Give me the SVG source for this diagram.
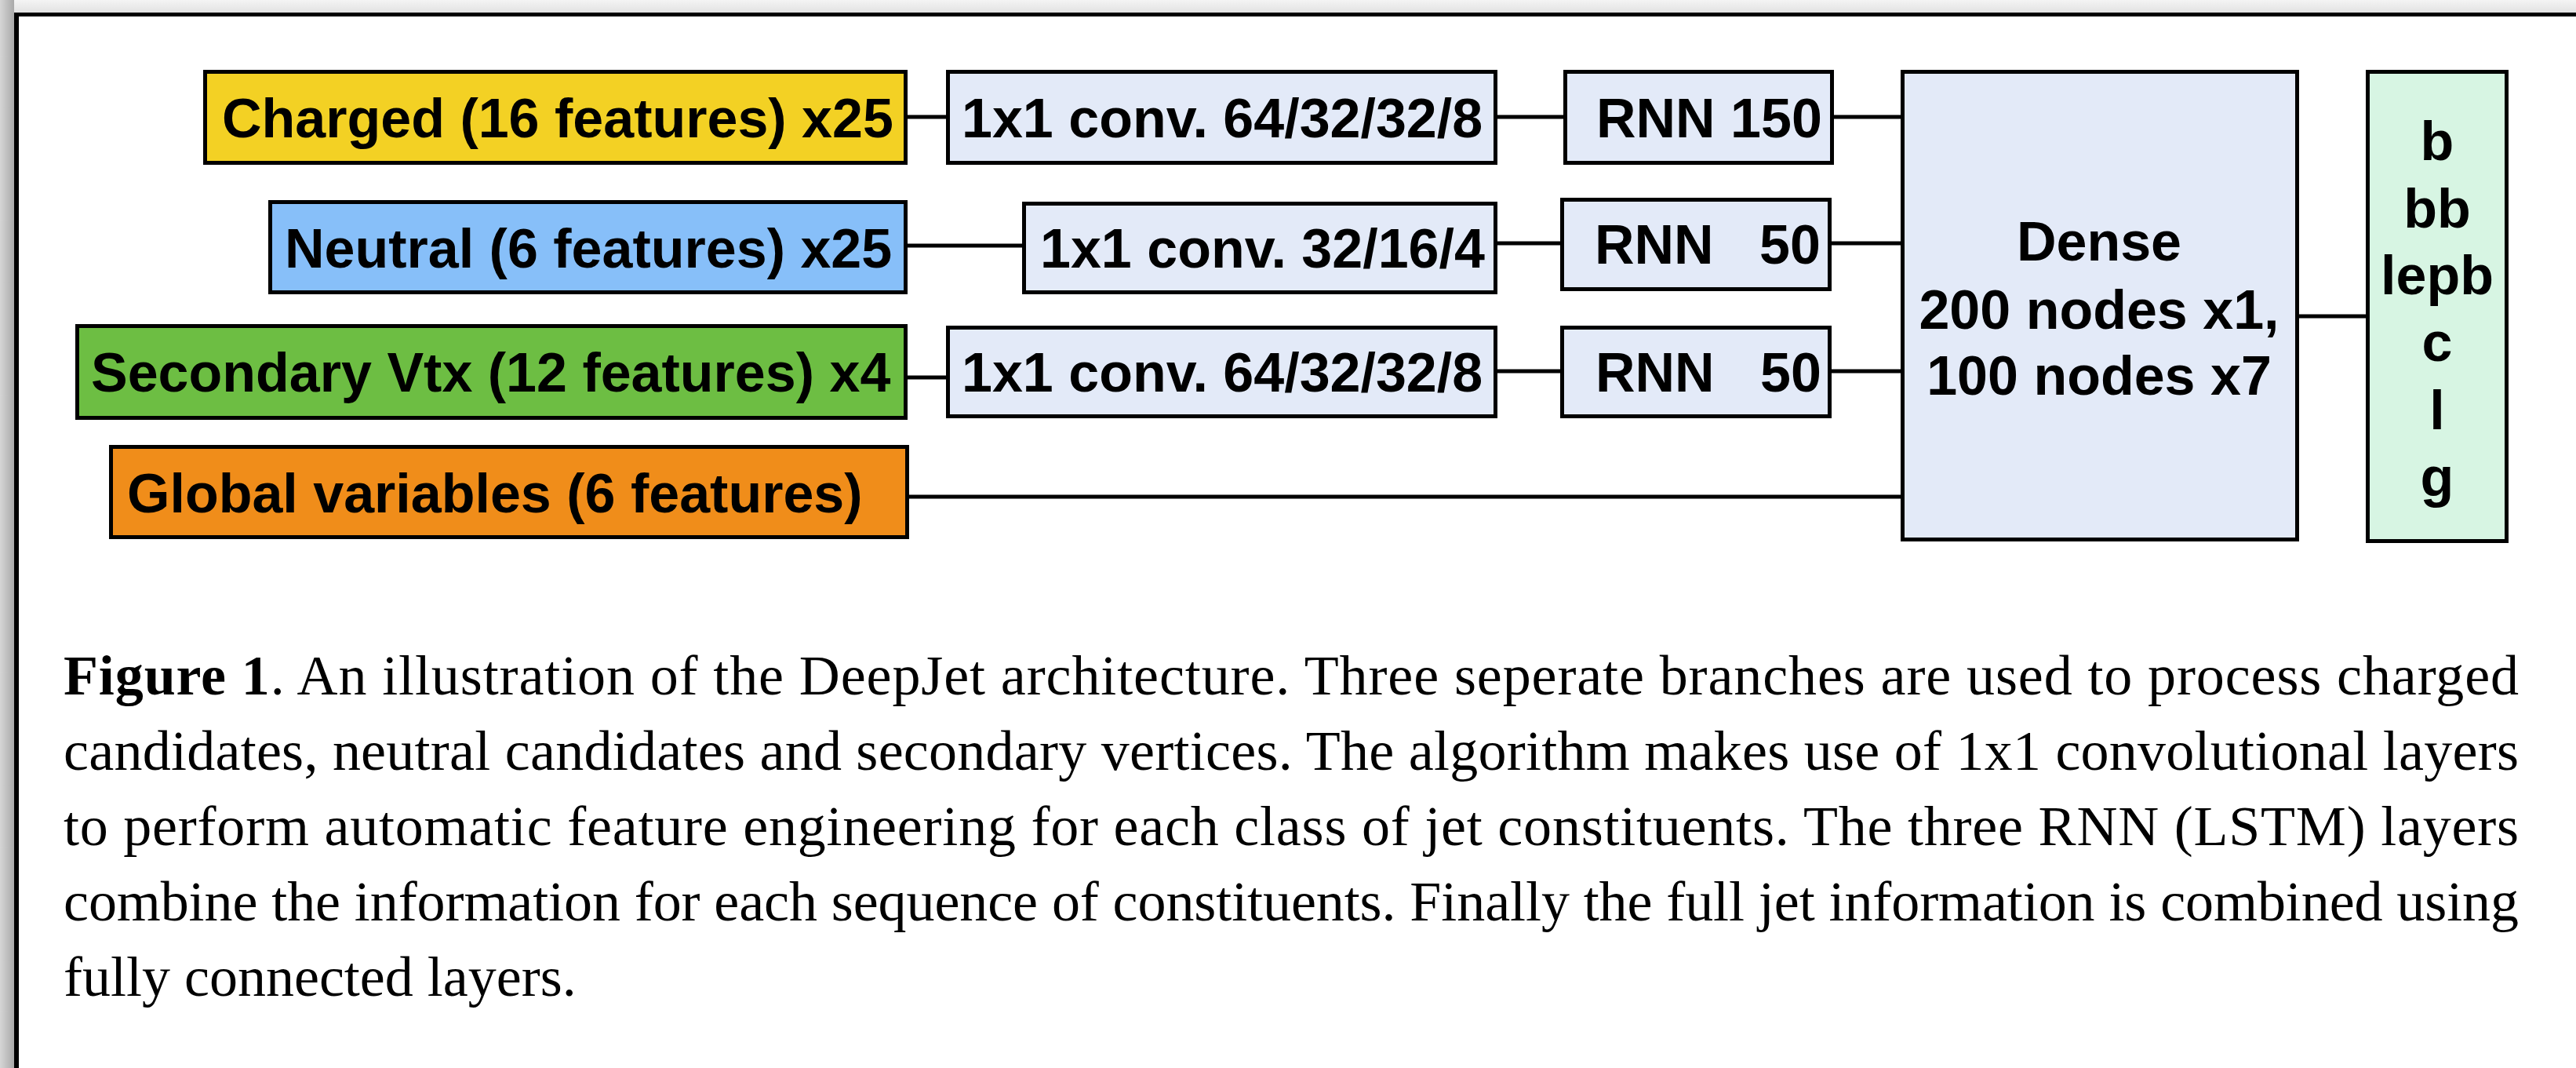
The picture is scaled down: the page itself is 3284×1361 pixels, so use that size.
<svg xmlns="http://www.w3.org/2000/svg" width="3284" height="1361" viewBox="0 0 3284 1361">
<defs>
<linearGradient id="gTop" x1="0" y1="0" x2="0" y2="1"><stop offset="0" stop-color="#f4f4f4"/><stop offset="1" stop-color="#e2e2e2"/></linearGradient>
<linearGradient id="gLeft" x1="0" y1="0" x2="1" y2="0"><stop offset="0" stop-color="#d6d6d6"/><stop offset="1" stop-color="#a9a9a9"/></linearGradient>
</defs>
<style>
.box{stroke:#000;stroke-width:5}
.lbl{font-family:"Liberation Sans",Arial,Helvetica,sans-serif;font-weight:bold;font-size:70px;fill:#000}
.mid{text-anchor:middle}
.cap{font-family:"Liberation Serif","Times New Roman",serif;font-size:72px;fill:#000}
.conn line{stroke:#000;stroke-width:5}
.layer{fill:#e3eaf8}
</style>
<rect x="0" y="0" width="3284" height="1361" fill="#ffffff"/>
<rect x="0" y="0" width="3284" height="16" fill="url(#gTop)"/>
<rect x="0" y="0" width="18" height="1361" fill="url(#gLeft)"/>
<line x1="18" y1="18.5" x2="3284" y2="18.5" stroke="#000" stroke-width="5"/>
<line x1="21" y1="16" x2="21" y2="1361" stroke="#000" stroke-width="6"/>

<g id="connectors" class="conn">
<line x1="1157" y1="149" x2="1206" y2="149"/>
<line x1="1909" y1="149" x2="1993" y2="149"/>
<line x1="2338" y1="149" x2="2423" y2="149"/>
<line x1="1157" y1="313" x2="1303" y2="313"/>
<line x1="1909" y1="310" x2="1989" y2="310"/>
<line x1="2335" y1="310" x2="2423" y2="310"/>
<line x1="1157" y1="481" x2="1206" y2="481"/>
<line x1="1909" y1="473" x2="1989" y2="473"/>
<line x1="2335" y1="473" x2="2423" y2="473"/>
<line x1="1159" y1="633" x2="2423" y2="633"/>
<line x1="2931" y1="403" x2="3016" y2="403"/>
</g>

<g id="charged">
<rect class="box" x="261.5" y="91.5" width="893" height="116" fill="#f3d124"/>
<text class="lbl" x="283" y="175">Charged (16 features) x25</text>
</g>
<g id="neutral">
<rect class="box" x="344.5" y="257.5" width="810" height="115" fill="#87bff9"/>
<text class="lbl" x="363" y="341">Neutral (6 features) x25</text>
</g>
<g id="secondary">
<rect class="box" x="98.5" y="415.5" width="1056" height="117" fill="#6dbe43"/>
<text class="lbl" x="116" y="499">Secondary Vtx (12 features) x4</text>
</g>
<g id="global">
<rect class="box" x="141.5" y="569.5" width="1015" height="115" fill="#f08d1a"/>
<text class="lbl" x="162" y="653">Global variables (6 features)</text>
</g>

<g id="conv1">
<rect class="box layer" x="1208.5" y="91.5" width="698" height="116"/>
<text class="lbl" x="1226" y="175">1x1 conv. 64/32/32/8</text>
</g>
<g id="conv2">
<rect class="box layer" x="1305.5" y="259.5" width="601" height="113"/>
<text class="lbl" x="1326" y="341">1x1 conv. 32/16/4</text>
</g>
<g id="conv3">
<rect class="box layer" x="1208.5" y="417.5" width="698" height="113"/>
<text class="lbl" x="1226" y="499">1x1 conv. 64/32/32/8</text>
</g>

<g id="rnn1">
<rect class="box layer" x="1995.5" y="91.5" width="340" height="116"/>
<text class="lbl" x="2035" y="175">RNN 150</text>
</g>
<g id="rnn2">
<rect class="box layer" x="1991.5" y="254.5" width="341" height="114"/>
<text class="lbl" x="2033" y="336" xml:space="preserve">RNN   50</text>
</g>
<g id="rnn3">
<rect class="box layer" x="1991.5" y="417.5" width="341" height="113"/>
<text class="lbl" x="2034" y="499" xml:space="preserve">RNN   50</text>
</g>

<g id="dense">
<rect class="box layer" x="2425.5" y="91.5" width="503" height="596"/>
<text class="lbl mid" x="2676" y="332">Dense</text>
<text class="lbl mid" x="2676" y="419">200 nodes x1,</text>
<text class="lbl mid" x="2676" y="503">100 nodes x7</text>
</g>

<g id="output">
<rect class="box" x="3018.5" y="91.5" width="177" height="598" fill="#d7f5e3"/>
<text class="lbl mid" x="3107" y="204">b</text>
<text class="lbl mid" x="3107" y="290">bb</text>
<text class="lbl mid" x="3107" y="375">lepb</text>
<text class="lbl mid" x="3107" y="460">c</text>
<text class="lbl mid" x="3107" y="547">l</text>
<text class="lbl mid" x="3107" y="632">g</text>
</g>

<g id="caption">
<text class="cap" x="81" y="885" textLength="3130" lengthAdjust="spacing"><tspan font-weight="bold">Figure 1</tspan>.  An illustration of the DeepJet architecture.  Three seperate branches are used to process charged</text>
<text class="cap" x="81" y="981" textLength="3130" lengthAdjust="spacing">candidates, neutral candidates and secondary vertices.  The algorithm makes use of 1x1 convolutional layers</text>
<text class="cap" x="81" y="1077" textLength="3130" lengthAdjust="spacing">to perform automatic feature engineering for each class of jet constituents.  The three RNN (LSTM) layers</text>
<text class="cap" x="81" y="1173" textLength="3130" lengthAdjust="spacing">combine the information for each sequence of constituents.  Finally the full jet information is combined using</text>
<text class="cap" x="81" y="1269">fully connected layers.</text>
</g>
</svg>
